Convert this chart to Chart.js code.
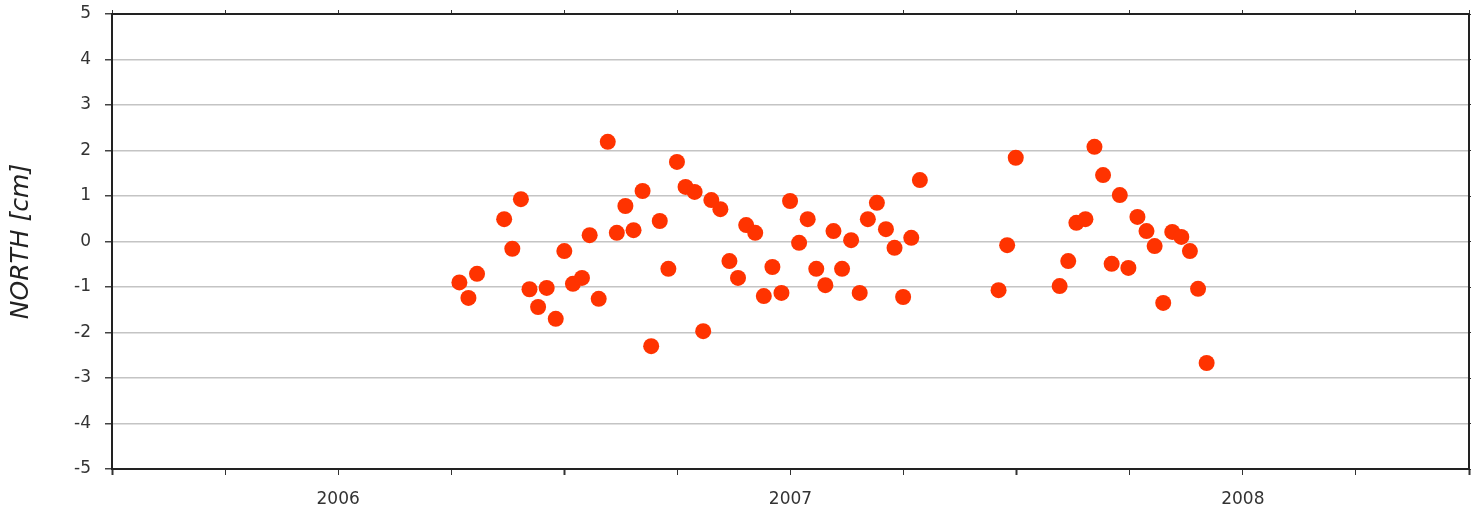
<!DOCTYPE html>
<html>
<head>
<meta charset="utf-8">
<script src="https://cdn.jsdelivr.net/npm/chart.js@4/dist/chart.umd.min.js"></script>
<style>
  html, body { margin: 0; padding: 0; background: #fff; }
  #wrap { width: 1477px; height: 515px; }
</style>
</head>
<body>
<div id="wrap"><canvas id="northChart" width="1477" height="515"></canvas></div>
<script>
// observation epochs (decimal years)
const epochs = [
    2006.768, 2006.788, 2006.807, 2006.867, 2006.885, 2006.904, 2006.923, 2006.942,
    2006.961, 2006.981, 2007.000, 2007.019, 2007.039, 2007.056, 2007.076, 2007.096,
    2007.116, 2007.135, 2007.153, 2007.173, 2007.192, 2007.211, 2007.230, 2007.249,
    2007.268, 2007.288, 2007.307, 2007.325, 2007.345, 2007.365, 2007.384, 2007.402,
    2007.422, 2007.441, 2007.460, 2007.480, 2007.499, 2007.519, 2007.538, 2007.557,
    2007.577, 2007.595, 2007.614, 2007.634, 2007.653, 2007.671, 2007.691, 2007.711,
    2007.730, 2007.749, 2007.767, 2007.786,
    2007.960, 2007.979, 2007.998,
    2008.095, 2008.114, 2008.132, 2008.152, 2008.172, 2008.191, 2008.210, 2008.228,
    2008.247, 2008.267, 2008.287, 2008.305, 2008.324, 2008.344, 2008.364, 2008.383,
    2008.401, 2008.420
];

// north component [cm]
const northCm = [
    -0.90, -1.24, -0.71, 0.49, -0.16, 0.93, -1.05, -1.44,
    -1.02, -1.70, -0.21, -0.93, -0.80, 0.14, -1.26, 2.19,
    0.19, 0.78, 0.25, 1.11, -2.30, 0.45, -0.60, 1.75,
    1.20, 1.09, -1.97, 0.91, 0.71, -0.43, -0.80, 0.36,
    0.19, -1.20, -0.56, -1.13, 0.89, -0.03, 0.49, -0.60,
    -0.96, 0.23, -0.60, 0.03, -1.13, 0.49, 0.85, 0.27,
    -0.14, -1.22, 0.08, 1.35,
    -1.07, -0.08, 1.84,
    -0.98, -0.43, 0.41, 0.49, 2.08, 1.46, -0.49, 1.02,
    -0.58, 0.54, 0.23, -0.10, -1.35, 0.21, 0.10, -0.21,
    -1.04, -2.67
];

const yearLabels = [2006, 2007, 2008];
const xMin = 2006, xMax = 2009;
const yMin = -5, yMax = 5;

const frameColor = '#222';
const tickFont = { family: 'DejaVu Sans', size: 17 };

const points = epochs.map((t, i) => ({ x: t, y: northCm[i] }));

function yearLabel(value) {
    // year label sits in the middle of its year
    const year = Math.floor(value);
    if (Math.abs(value - year - 0.5) < 1e-6 && yearLabels.includes(year)) {
        return String(year);
    }
    return '';
}

// keep the plot box where it is: no extra room for end labels
function fixSize(prop, size) {
    return (scale) => {
        scale[prop] = size;
        scale.paddingLeft = 0;
        scale.paddingRight = 0;
        scale.paddingTop = 0;
        scale.paddingBottom = 0;
    };
}

const ctx = document.getElementById('northChart').getContext('2d');
const chart = new Chart(ctx, {
    type: 'scatter',
    data: {
        datasets: [{
            label: 'NORTH',
            data: points,
            backgroundColor: '#ff3300',
            borderWidth: 0,
            pointRadius: 8,
            pointHoverRadius: 8
        }]
    },
    options: {
        responsive: false,
        animation: false,
        layout: { padding: { top: 14, right: 2, left: 0, bottom: 0 } },
        plugins: {
            legend: { display: false },
            tooltip: { enabled: false }
        },
        scales: {
            x: {
                type: 'linear',
                position: 'bottom',
                min: xMin,
                max: xMax,
                afterFit: fixSize('height', 46),
                border: { display: true, color: frameColor, width: 2 },
                grid: {
                    drawOnChartArea: false,
                    drawTicks: true,
                    tickLength: 6,
                    tickColor: '#333',
                    tickWidth: (c) => (c.tick && c.tick.value % 1 === 0 ? 2 : 1)
                },
                ticks: {
                    stepSize: 0.25,
                    autoSkip: false,
                    maxRotation: 0,
                    padding: 14,
                    color: '#333',
                    font: tickFont,
                    callback: (value) => yearLabel(value)
                }
            },
            x2: {
                type: 'linear',
                position: 'top',
                min: xMin,
                max: xMax,
                afterFit: fixSize('height', 0),
                border: { display: true, color: frameColor, width: 2 },
                grid: { drawOnChartArea: false, tickLength: 4, tickColor: '#333' },
                ticks: { display: false, stepSize: 0.25 }
            },
            y: {
                type: 'linear',
                position: 'left',
                min: yMin,
                max: yMax,
                afterFit: fixSize('width', 112),
                border: { display: true, color: frameColor, width: 2 },
                grid: {
                    color: '#c4c4c4',
                    lineWidth: 1.5,
                    tickLength: 7,
                    tickColor: '#444'
                },
                ticks: {
                    stepSize: 1,
                    padding: 14,
                    color: '#333',
                    font: tickFont
                },
                title: {
                    display: true,
                    text: 'NORTH [cm]',
                    color: '#222',
                    font: { family: 'DejaVu Sans', size: 25, style: 'italic' },
                    padding: { top: 6, bottom: 0 }
                }
            },
            y2: {
                type: 'linear',
                position: 'right',
                min: yMin,
                max: yMax,
                afterFit: fixSize('width', 0),
                border: { display: true, color: frameColor, width: 2 },
                grid: { drawOnChartArea: false, tickLength: 2, tickColor: '#333' },
                ticks: { display: false, stepSize: 1 }
            }
        }
    }
});
</script>
</body>
</html>
